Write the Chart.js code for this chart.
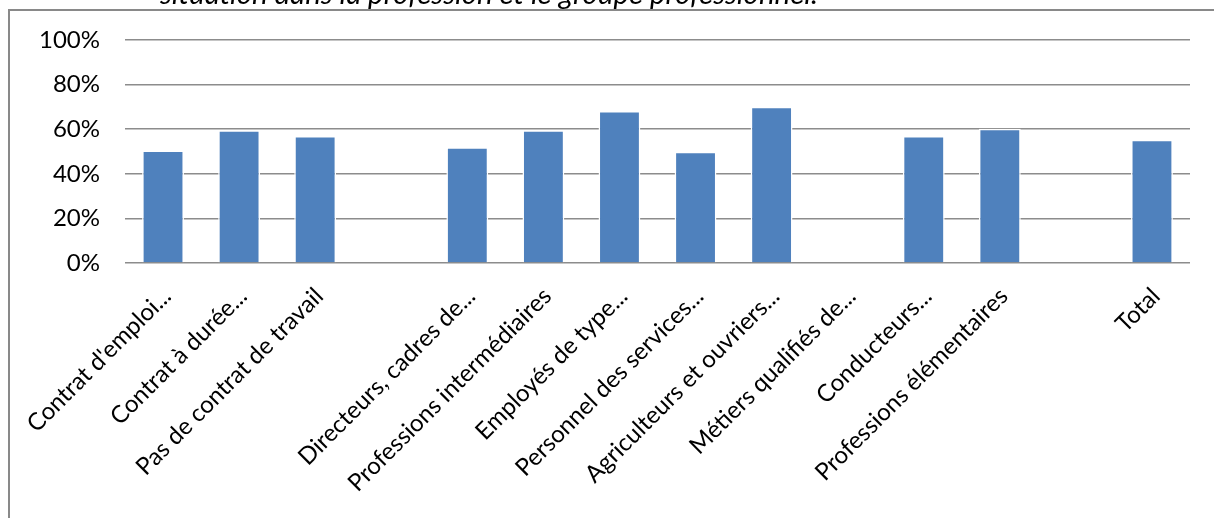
<!doctype html>
<html lang="fr">

<head>
    <meta charset="utf-8">
    <title>Bar chart</title>
    <script src="https://cdn.jsdelivr.net/npm/chart.js@4.4.1/dist/chart.umd.min.js"></script>
    <style>
        html, body { margin: 0; padding: 0; background: #fff; }
        #zone { width: 1214px; height: 518px; }
    </style>
</head>

<body>

    <div id="zone"><canvas id="chart"></canvas></div>

    <script>
        // données
        var titre = 'situation dans la profession et le groupe professionnel.';
        var categories = [
            "Contrat d'emploi...", 'Contrat à durée...', 'Pas de contrat de travail', '',
            'Directeurs, cadres de...', 'Professions intermédiaires', 'Employés de type...',
            'Personnel des services...', 'Agriculteurs et ouvriers...', 'Métiers qualifiés de...',
            'Conducteurs...', 'Professions élémentaires', '', 'Total'
        ];
        var valeurs = [50.5, 59.5, 57, null, 51.9, 59.5, 68.2, 49.9, 70.1, null, 57, 60.2, null, 55.3];
        var graduations = [0, 20, 40, 60, 80, 100];

        // cadre gris + titre coupé en haut
        var cadre = {
            id: 'cadre',
            beforeDraw: function (chart) {
                var ctx = chart.ctx;
                ctx.save();
                ctx.fillStyle = '#fff';
                ctx.fillRect(0, 0, chart.width, chart.height);
                ctx.strokeStyle = '#898989';
                ctx.lineWidth = 2;
                ctx.strokeRect(9, 10, chart.width + 40, chart.height + 40);
                ctx.font = 'italic 26px Lato';
                var w = ctx.measureText(titre).width;
                ctx.font = 'italic ' + (26 * 658 / w).toFixed(2) + 'px Lato';
                ctx.fillStyle = '#000';
                ctx.textBaseline = 'alphabetic';
                ctx.fillText(titre, 160, 4);
                ctx.restore();
            }
        };

        new Chart(document.getElementById('chart').getContext('2d'), {
            type: 'bar',
            data: {
                labels: categories,
                datasets: [{
                    data: valeurs,
                    backgroundColor: '#4f81bd',
                    borderColor: '#ffffff',
                    borderWidth: 1.5,
                    barPercentage: 0.55,
                    categoryPercentage: 1
                }]
            },
            options: {
                responsive: true,
                maintainAspectRatio: false,
                animation: false,
                layout: { padding: { top: 40, right: 24, left: 0, bottom: 0 } },
                plugins: {
                    legend: { display: false },
                    tooltip: { enabled: false }
                },
                scales: {
                    x: {
                        grid: { display: false, drawTicks: false },
                        border: { display: false },
                        ticks: {
                            autoSkip: false,
                            maxRotation: 45,
                            minRotation: 45,
                            padding: 19,
                            labelOffset: 4,
                            color: '#000',
                            font: { family: 'Lato', size: 24 }
                        },
                        afterFit: function (scale) {
                            scale.height = 255;
                            scale.paddingLeft = 0;
                            scale.paddingRight = 0;
                        }
                    },
                    y: {
                        min: 0,
                        max: 100,
                        afterBuildTicks: function (scale) {
                            scale.ticks = graduations.map(function (v) { return { value: v }; });
                        },
                        grid: { color: '#8c8c8c', lineWidth: 1.5, drawTicks: false },
                        border: { display: false },
                        ticks: {
                            padding: 25,
                            color: '#000',
                            font: { family: 'Lato', size: 24 },
                            callback: function (v) { return v + '%'; }
                        },
                        afterFit: function (scale) {
                            scale.width = 125;
                        }
                    }
                }
            },
            plugins: [cadre]
        });
    </script>

</body>

</html>
